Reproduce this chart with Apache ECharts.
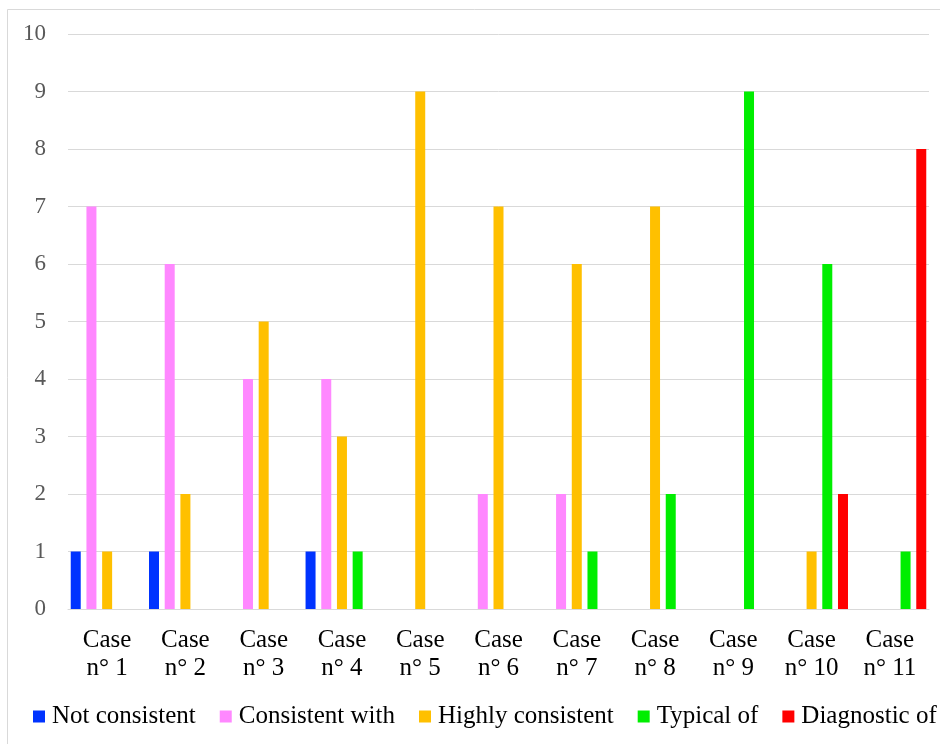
<!DOCTYPE html>
<html>
<head>
<meta charset="utf-8">
<script src="https://cdn.jsdelivr.net/npm/echarts@6/dist/echarts.min.js"></script>
<style>
  html, body { margin: 0; padding: 0; background: #fff; }
  #chart { width: 940px; height: 744px; }
</style>
</head>
<body>
<div id="chart"></div>
<script>
// Categories (cases) and counts per rating level
const categories = ['Case\nn° 1', 'Case\nn° 2', 'Case\nn° 3', 'Case\nn° 4', 'Case\nn° 5', 'Case\nn° 6',
                    'Case\nn° 7', 'Case\nn° 8', 'Case\nn° 9', 'Case\nn° 10', 'Case\nn° 11'];
const notConsistent     = [1, 1, 0, 1, 0, 0, 0, 0, 0, 0, 0];
const consistentWith    = [7, 6, 4, 4, 0, 2, 2, 0, 0, 0, 0];
const highlyConsistent  = [1, 2, 5, 3, 9, 7, 6, 7, 0, 1, 0];
const typicalOf         = [0, 0, 0, 1, 0, 0, 1, 2, 9, 6, 1];
const diagnosticOf      = [0, 0, 0, 0, 0, 0, 0, 0, 0, 2, 8];
const seriesNames = ['Not consistent', 'Consistent with', 'Highly consistent', 'Typical of', 'Diagnostic of'];
const yTicks = [0, 10, 1]; // min, max, step

const colors = ['#0033FF', '#FF88FF', '#FFC000', '#00EE00', '#FF0000'];
const FONT = '"Liberation Serif", "Times New Roman", serif';

const chart = echarts.init(document.getElementById('chart'), null, { renderer: 'canvas' });

const dataSets = [notConsistent, consistentWith, highlyConsistent, typicalOf, diagnosticOf];

chart.setOption({
  animation: false,
  backgroundColor: '#ffffff',
  color: colors,
  graphic: [{
    type: 'rect',
    shape: { x: 7.5, y: 9.5, width: 1000, height: 1000 },
    style: { fill: 'none', stroke: '#d9d9d9', lineWidth: 1 },
    silent: true
  }],
  grid: { left: 68, right: 11, top: 34, bottom: 135 },
  legend: {
    data: seriesNames,
    left: 33,
    top: 704,
    padding: 0,
    itemWidth: 12,
    itemHeight: 12,
    itemGap: 24,
    icon: 'rect',
    textStyle: { fontFamily: FONT, fontSize: 25, color: '#000', padding: [0, 0, 0, 2] }
  },
  xAxis: {
    type: 'category',
    data: categories,
    axisLine: { lineStyle: { color: '#d9d9d9', width: 1 } },
    axisTick: { show: false },
    axisLabel: {
      fontFamily: FONT, fontSize: 25, color: '#000',
      lineHeight: 28, margin: 17, interval: 0
    }
  },
  yAxis: {
    type: 'value',
    min: yTicks[0], max: yTicks[1], interval: yTicks[2],
    axisLine: { show: false },
    axisTick: { show: false },
    splitLine: { lineStyle: { color: '#d9d9d9', width: 1 } },
    axisLabel: { fontFamily: FONT, fontSize: 23, color: '#595959', margin: 22 }
  },
  series: dataSets.map((d, i) => ({
    name: seriesNames[i],
    type: 'bar',
    data: d,
    barWidth: 10,
    barGap: '57%',
    itemStyle: { color: colors[i] }
  }))
});
</script>
</body>
</html>
